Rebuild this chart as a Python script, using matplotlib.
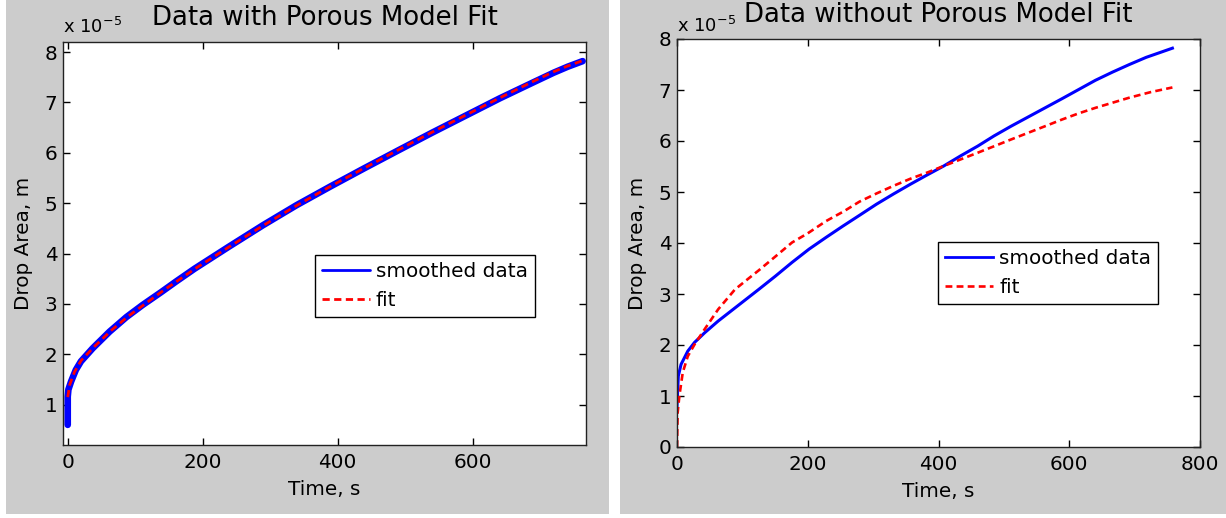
import matplotlib
matplotlib.use("Agg")
import matplotlib.pyplot as plt
from matplotlib.patches import Rectangle

# values in units of 1e-5 m
left_time_data = [0, 0, 0, 1, 5, 12, 19.6, 37, 62, 87, 111, 138, 161, 188, 238,
                  289, 339, 389, 439, 490, 540, 590, 640, 690, 720, 741, 763]
left_area_data = [0.6, 0.9, 1.16, 1.3, 1.46, 1.69, 1.86, 2.12, 2.45, 2.74, 2.98,
                  3.23, 3.45, 3.70, 4.13, 4.56, 4.96, 5.33, 5.69, 6.05, 6.40,
                  6.74, 7.08, 7.40, 7.59, 7.71, 7.82]
left_time_fit = [0, 3, 10, 20, 40, 65, 90, 140, 190, 240, 290, 340, 390, 440,
                 490, 540, 590, 640, 690, 720, 740, 763]
left_area_fit = [1.15, 1.40, 1.65, 1.88, 2.16, 2.48, 2.76, 3.25, 3.71, 4.14,
                 4.56, 4.96, 5.34, 5.70, 6.06, 6.41, 6.75, 7.09, 7.42, 7.61,
                 7.72, 7.83]

right_time_data = [0, 2, 6.2, 16.5, 26.8, 42.3, 63, 80, 99, 125, 150.5, 176, 202,
                   228, 253.6, 280, 305, 331, 356.7, 382, 408, 434, 460, 485, 511,
                   537, 563, 589, 614.5, 640, 666, 692, 717.6, 740, 757.8]
right_area_data = [0.8, 1.39, 1.62, 1.88, 2.05, 2.24, 2.47, 2.64, 2.83, 3.09,
                   3.35, 3.62, 3.88, 4.11, 4.33, 4.55, 4.76, 4.96, 5.15, 5.33,
                   5.51, 5.71, 5.90, 6.10, 6.29, 6.47, 6.65, 6.83, 7.01, 7.19,
                   7.35, 7.50, 7.64, 7.74, 7.82]
right_time_fit = [0, 1, 3.6, 8.8, 16.5, 26.8, 42.3, 63, 88.7, 110, 124.7, 150,
                  176, 200, 228, 255, 279, 305, 331, 357, 382.5, 408, 434, 460,
                  485.6, 511, 537, 563, 588.7, 614, 640, 666, 692, 725, 757.8]
right_area_fit = [0, 0.67, 1.0, 1.46, 1.78, 2.01, 2.31, 2.70, 3.09, 3.31, 3.46,
                  3.73, 4.01, 4.19, 4.43, 4.62, 4.81, 4.97, 5.12, 5.26, 5.38,
                  5.51, 5.64, 5.77, 5.90, 6.03, 6.16, 6.29, 6.42, 6.54, 6.65,
                  6.75, 6.85, 6.96, 7.05]

left_xticks = [0, 200, 400, 600]
left_yticks = [1, 2, 3, 4, 5, 6, 7, 8]
right_xticks = [0, 200, 400, 600, 800]
right_yticks = [0, 1, 2, 3, 4, 5, 6, 7, 8]

W, H = 1226, 518
FS = 14.4
GRAY = '#cccccc'
DASH = (0, (2.6, 1.6))

fig = plt.figure(figsize=(W / 100, H / 100), dpi=100, facecolor='white')
fig.add_artist(Rectangle((6 / W, 4 / H), 603 / W, 514 / H, transform=fig.transFigure,
                         facecolor=GRAY, edgecolor='none', zorder=-5))
fig.add_artist(Rectangle((620 / W, 4 / H), 606 / W, 514 / H, transform=fig.transFigure,
                         facecolor=GRAY, edgecolor='none', zorder=-5))

ax1 = fig.add_axes([63 / W, (518 - 445) / H, 523 / W, 403 / H])
ax2 = fig.add_axes([677 / W, (518 - 447) / H, 523 / W, 408 / H])


def style_axes(ax, xticks, yticks):
    ax.set_facecolor('white')
    ax.set_xticks(xticks)
    ax.set_yticks(yticks)
    ax.tick_params(direction='in', length=5, width=1, top=True, right=True,
                   labelsize=FS, colors='k')
    ax.tick_params(axis='x', pad=6)
    ax.tick_params(axis='y', pad=4)
    for s in ax.spines.values():
        s.set_linewidth(1)
        s.set_color('#222222')


def add_legend(ax, anchor):
    leg = ax.legend(loc='upper left', bbox_to_anchor=anchor, borderaxespad=0,
                    fontsize=FS, frameon=True, fancybox=False, framealpha=1,
                    edgecolor='k', handlelength=2.4, handletextpad=0.3,
                    labelspacing=0.5, borderpad=0.35)
    leg.get_frame().set_linewidth(1)
    leg.get_lines()[0].set_linewidth(2)
    return leg


ax1.plot(left_time_data, left_area_data, color='blue', lw=4.8,
         solid_capstyle='round', solid_joinstyle='round', label='smoothed data')
ax1.plot(left_time_fit, left_area_fit, color='red', lw=2.0, linestyle=DASH, label='fit')
ax1.set_xlim(-7, 768)
ax1.set_ylim(0.2, 8.2)
style_axes(ax1, left_xticks, left_yticks)
ax1.set_title('Data with Porous Model Fit', fontsize=18.7, pad=12)
ax1.set_xlabel('Time, s', fontsize=FS)
ax1.set_ylabel('Drop Area, m', fontsize=FS)
ax1.xaxis.set_label_coords(0.5, -0.087)
ax1.yaxis.set_label_coords(-0.057, 0.5)
ax1.text(0.0, 1.022, r'x 10$^{-5}$', transform=ax1.transAxes, fontsize=13,
         ha='left', va='baseline')
add_legend(ax1, (0.4818, 0.4715))

ax2.plot(right_time_data, right_area_data, color='blue', lw=2.2, label='smoothed data')
ax2.plot(right_time_fit, right_area_fit, color='red', lw=1.9, linestyle=DASH, label='fit')
ax2.set_xlim(0, 800)
ax2.set_ylim(0, 8)
style_axes(ax2, right_xticks, right_yticks)
ax2.set_title('Data without Porous Model Fit', fontsize=18.7, pad=12)
ax2.set_xlabel('Time, s', fontsize=FS)
ax2.set_ylabel('Drop Area, m', fontsize=FS)
ax2.xaxis.set_label_coords(0.5, -0.086)
ax2.yaxis.set_label_coords(-0.057, 0.5)
ax2.text(0.0, 1.018, r'x 10$^{-5}$', transform=ax2.transAxes, fontsize=13,
         ha='left', va='baseline')
add_legend(ax2, (0.4996, 0.503))

fig.savefig('out.png', dpi=100, facecolor=fig.get_facecolor())
